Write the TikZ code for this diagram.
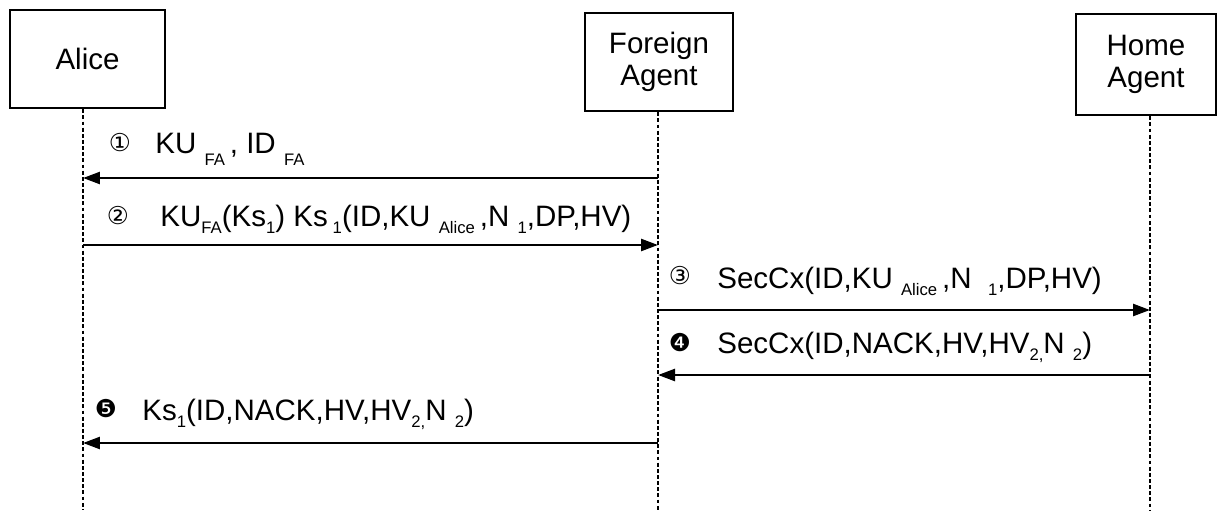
\documentclass[tikz,border=0pt]{standalone}
\usepackage{fontspec}
\setmainfont{Liberation Sans}
\newfontfamily\symfont{DejaVu Sans}
\usepackage{tikz}
\usetikzlibrary{arrows.meta}
\newcommand{\sub}[1]{\raisebox{-4pt}{\fontsize{9.5}{9.5}\selectfont #1}}
\newcommand{\lowsub}[1]{\raisebox{-7pt}{\fontsize{9.5}{9.5}\selectfont #1}}

\begin{document}
\begin{tikzpicture}[x=0.02cm, y=-0.02cm,
  actor/.style={draw, line width=1.4pt, align=center, font=\fontsize{16.8}{18.5}\selectfont},
  lifeline/.style={line width=1.3pt, dash pattern=on 2.2pt off 1.3pt},
  msg/.style={line width=1.4pt, -{Triangle[length=0.34cm, width=0.24cm]}},
  step num/.style={font=\symfont\fontsize{14}{14}\selectfont, anchor=base},
  msgtext/.style={font=\fontsize{16.8}{18.5}\selectfont, anchor=base west, inner sep=0pt}]
\useasboundingbox (0,0) rectangle (1219,510);
\node[actor, minimum width=3.1cm, minimum height=1.96cm] (alice) at (87.5,59) {Alice};
\node[actor, minimum width=2.96cm, minimum height=1.96cm] (fa) at (659,62) {Foreign\\Agent};
\node[actor, minimum width=2.8cm, minimum height=2.02cm] (ha) at (1146,64.5) {Home\\Agent};
\coordinate (Aend) at (83,510);
\coordinate (Fend) at (658,510);
\coordinate (Hend) at (1150,510);
\draw[lifeline] (alice.south -| Aend) -- (Aend);
\draw[lifeline] (fa.south -| Fend) -- (Fend);
\draw[lifeline] (ha.south -| Hend) -- (Hend);
% message rows
\foreach \n/\y in {1/178,2/245,3/310,4/375,5/443} {
  \coordinate (A\n) at (83,\y);
  \coordinate (F\n) at (658,\y);
  \coordinate (H\n) at (1150,\y);
}
\draw[msg] (F1) -- (A1);
\draw[msg] (A2) -- (F2);
\draw[msg] (F3) -- (H3);
\draw[msg] (H4) -- (F4);
\draw[msg] (F5) -- (A5);
% labels
\node[step num] (n1) at (120,151) {①};
\node[msgtext] (l1) at (155,153) {KU\ \lowsub{FA}\,,\ ID\ \lowsub{FA}};
\node[step num] (n2) at (118,224) {②};
\node[msgtext] (l2) at (160,226) {KU\sub{FA}(Ks\sub{1}) Ks\,\sub{1}(ID,KU\ \sub{Alice}\,,N\ \sub{1},DP,HV)};
\node[step num] (n3) at (680,284) {③};
\node[msgtext] (l3) at (717,288) {SecCx(ID,KU\ \sub{Alice}\,,N\ \ \sub{1},DP,HV)};
\node[step num] (n4) at (680,351) {❹};
\node[msgtext] (l4) at (717,353) {SecCx(ID,NACK,HV,HV\sub{2,}N\ \sub{2})};
\node[step num] (n5) at (106,417) {❺};
\node[msgtext] (l5) at (142,420) {Ks\sub{1}(ID,NACK,HV,HV\sub{2,}N\ \sub{2})};
\end{tikzpicture}
\end{document}
